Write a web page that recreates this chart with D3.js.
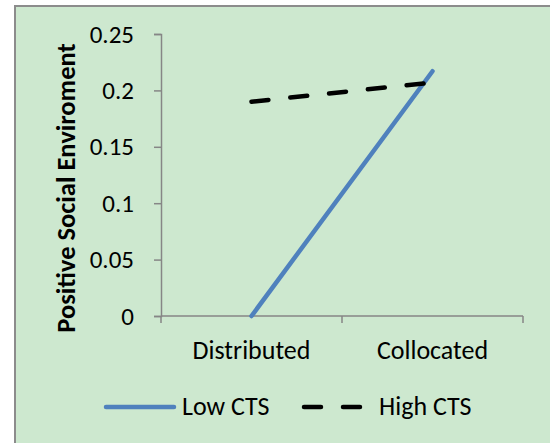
<!DOCTYPE html>
<html>
<head>
<meta charset="utf-8">
<script src="https://cdn.jsdelivr.net/npm/d3@7"></script>
<style>
  html, body { margin: 0; padding: 0; background: #ffffff; }
  svg { display: block; }
  text { font-family: Carlito, Lato, "Open Sans", sans-serif; fill: #000; }
</style>
</head>
<body>
<svg id="chart" width="550" height="443"></svg>
<script>
// Chart data
const categories = ["Distributed", "Collocated"];
const seriesNames = ["Low CTS", "High CTS"];
const lowCTS = [0, 0.217];
const highCTS = [0.19, 0.207];
const yTicks = [0, 0.05, 0.1, 0.15, 0.2, 0.25];
const yTickLabels = ["0", "0.05", "0.1", "0.15", "0.2", "0.25"];
const yTitle = "Positive Social Enviroment";

const svg = d3.select("#chart");
const W = 550, H = 443;
const FONT = "Carlito, Lato, 'Open Sans', sans-serif";
const FS_Y = 25;     // y tick labels
const FS_TXT = 26;   // category labels and legend
const FS_TITLE = 26.5;

// chart area background and border
svg.append("rect")
  .attr("x", 15).attr("y", 6)
  .attr("width", W).attr("height", H)
  .attr("fill", "#cde8cf")
  .attr("stroke", "#8c8c8c").attr("stroke-width", 2);

const plot = { left: 161, right: 523, top: 34, bottom: 316 };

const x = d3.scaleBand().domain(categories).range([plot.left, plot.right]).padding(0);
const y = d3.scaleLinear().domain([0, 0.25]).range([plot.bottom, plot.top]);

const axisColor = "#868686";

// y axis
const yAxis = svg.append("g")
  .attr("transform", `translate(${plot.left},0)`)
  .call(d3.axisLeft(y).tickValues(yTicks)
    .tickFormat((d, i) => yTickLabels[i]).tickSize(7).tickPadding(20));
yAxis.select(".domain").attr("stroke", axisColor).attr("stroke-width", 1.5);
yAxis.selectAll(".tick line").attr("stroke", axisColor).attr("stroke-width", 1.5);
yAxis.selectAll(".tick text").attr("font-size", FS_Y)
  .style("font-family", FONT).attr("fill", "#000");

// x axis
const xAxis = svg.append("g")
  .attr("transform", `translate(0,${plot.bottom})`)
  .call(d3.axisBottom(x).tickSize(0).tickPadding(24.5));
xAxis.select(".domain").remove();
xAxis.append("line")
  .attr("x1", plot.left).attr("x2", plot.right)
  .attr("stroke", axisColor).attr("stroke-width", 1.5);
// category boundary ticks
const bounds = [plot.left, ...categories.map(c => x(c) + x.bandwidth())];
xAxis.selectAll(".bound").data(bounds).enter().append("line")
  .attr("x1", d => d).attr("x2", d => d)
  .attr("y1", 0).attr("y2", 7)
  .attr("stroke", axisColor).attr("stroke-width", 1.5);
xAxis.selectAll(".tick text").attr("font-size", FS_TXT)
  .style("font-family", FONT).attr("fill", "#000");

// y axis title
svg.append("text")
  .attr("transform", `translate(75,188) rotate(-90)`)
  .attr("text-anchor", "middle")
  .attr("font-size", FS_TITLE).attr("font-weight", "bold")
  .text(yTitle);

// lines
const cx = c => x(c) + x.bandwidth() / 2;
const line = d3.line().x((d, i) => cx(categories[i])).y(d => y(d));

svg.append("path").datum(lowCTS)
  .attr("d", line).attr("fill", "none")
  .attr("stroke", "#4f81bd").attr("stroke-width", 4.5)
  .attr("stroke-linecap", "round");

svg.append("path").datum(highCTS)
  .attr("d", line).attr("fill", "none")
  .attr("stroke", "#000").attr("stroke-width", 4.5)
  .attr("stroke-linecap", "round")
  .attr("stroke-dasharray", "17,22");

// legend
const legendY = 407;
const lg = svg.append("g");
lg.append("line").attr("x1", 106).attr("x2", 174)
  .attr("y1", legendY).attr("y2", legendY)
  .attr("stroke", "#4f81bd").attr("stroke-width", 4.5).attr("stroke-linecap", "round");
lg.append("text").attr("x", 182).attr("y", legendY + 8)
  .attr("font-size", FS_TXT).text(seriesNames[0]);
lg.append("line").attr("x1", 304).attr("x2", 362)
  .attr("y1", legendY).attr("y2", legendY)
  .attr("stroke", "#000").attr("stroke-width", 4.5).attr("stroke-linecap", "round")
  .attr("stroke-dasharray", "17,22");
lg.append("text").attr("x", 379).attr("y", legendY + 8)
  .attr("font-size", FS_TXT).text(seriesNames[1]);
</script>
</body>
</html>
